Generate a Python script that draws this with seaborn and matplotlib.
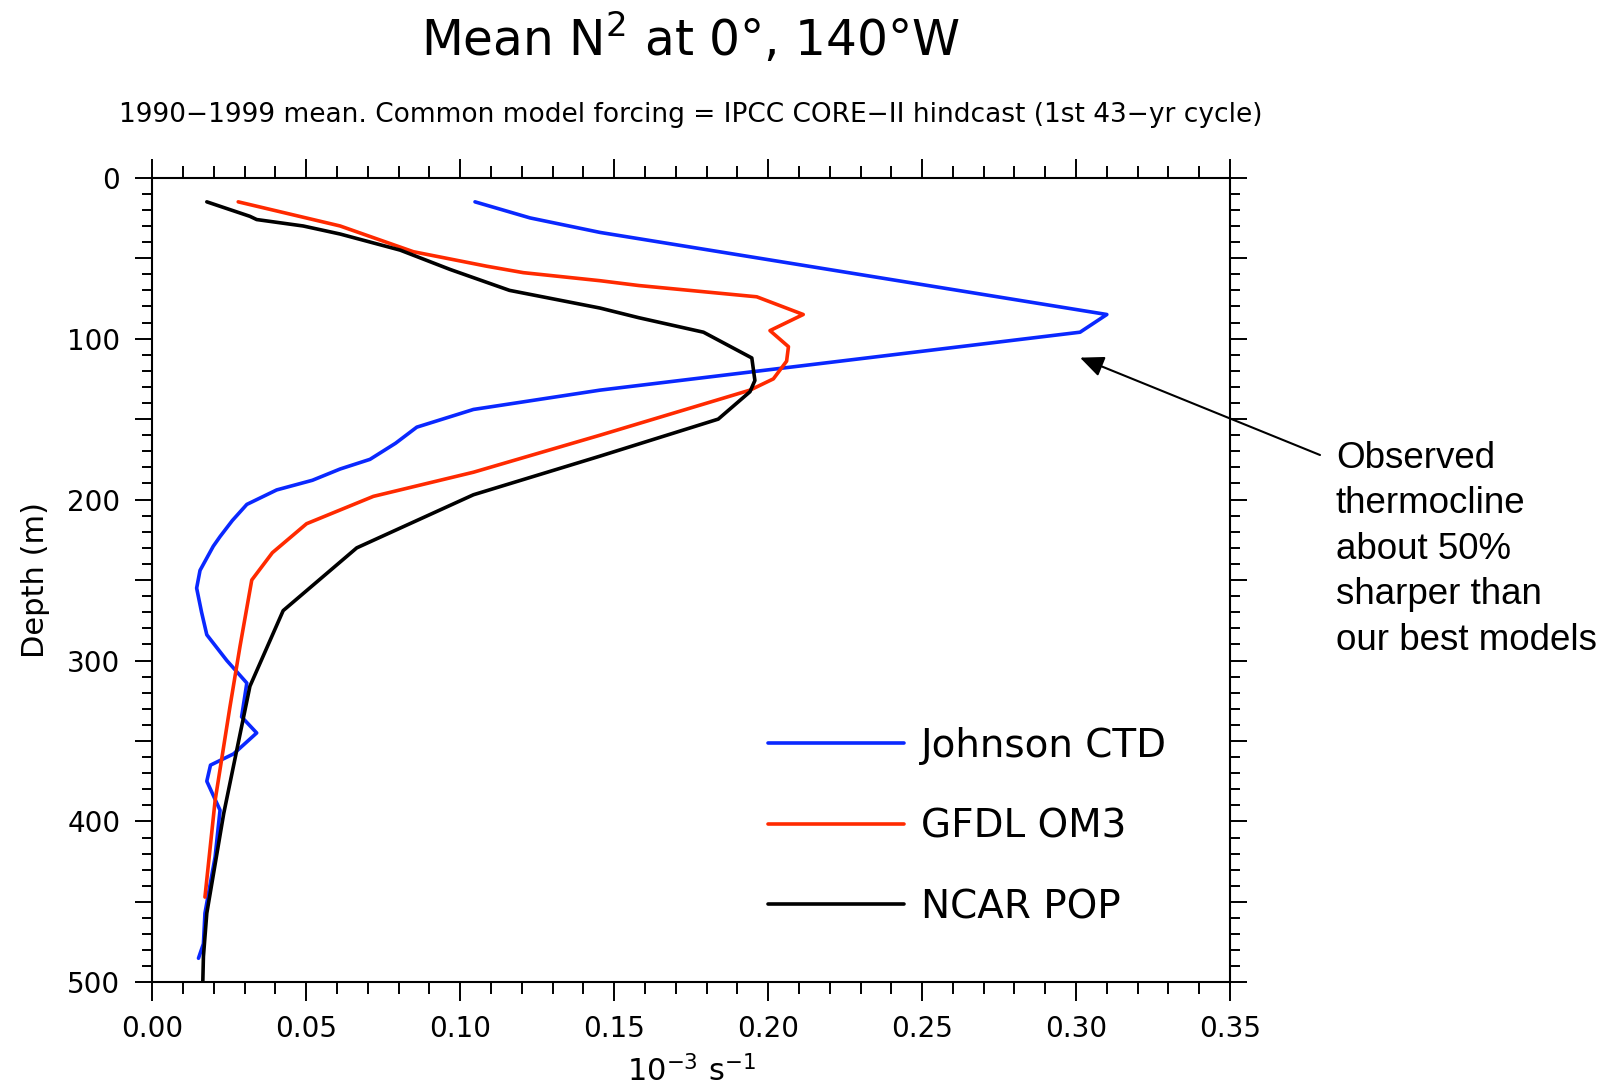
import numpy as np
import pandas as pd
import matplotlib
matplotlib.use("Agg")
import matplotlib.pyplot as plt
import seaborn as sns
from matplotlib.ticker import MultipleLocator, FuncFormatter

# ---------------- data ----------------
series_names = ["Johnson CTD", "GFDL OM3", "NCAR POP"]
series_colors = ["#0a28ff", "#ff2a00", "#000000"]

johnson_depth = [15, 25, 34, 85, 96, 132, 144, 155, 165, 175, 181, 188, 194, 203,
                 213, 223, 229, 244, 255, 270, 284, 300, 314, 335, 345, 358, 365,
                 375, 393, 422, 457, 476, 485]
johnson_n2 = [0.1048, 0.1227, 0.1454, 0.3100, 0.3013, 0.1454, 0.1043, 0.0859, 0.0790,
              0.0707, 0.0610, 0.0520, 0.0404, 0.0307, 0.0260, 0.0220, 0.0198, 0.0155,
              0.0144, 0.0160, 0.0177, 0.0242, 0.0307, 0.0290, 0.0339, 0.0264, 0.0189,
              0.0177, 0.0220, 0.0204, 0.0171, 0.0166, 0.0150]

gfdl_depth = [15, 30, 46, 55, 59, 64, 67, 74, 85, 95, 105, 114, 125, 132, 160, 183,
              198, 215, 233, 250, 291, 329, 387, 447]
gfdl_n2 = [0.0279, 0.0610, 0.0848, 0.1086, 0.1205, 0.1454, 0.1580, 0.1963, 0.2114,
           0.2006, 0.2066, 0.2060, 0.2017, 0.1941, 0.1454, 0.1043, 0.0718, 0.0501,
           0.0390, 0.0323, 0.0285, 0.0252, 0.0204, 0.0171]

ncar_depth = [15, 24, 26, 30, 35, 45, 57, 70, 81, 87, 96, 112, 126, 133, 150, 173,
              197, 230, 269, 316, 395, 457, 484, 500]
ncar_n2 = [0.0177, 0.0317, 0.0339, 0.0490, 0.0610, 0.0805, 0.0967, 0.1160, 0.1454,
           0.1580, 0.1790, 0.1947, 0.1957, 0.1941, 0.1838, 0.1454, 0.1043, 0.0664,
           0.0425, 0.0317, 0.0232, 0.0177, 0.0166, 0.0164]

x_ticks = [0.00, 0.05, 0.10, 0.15, 0.20, 0.25, 0.30, 0.35]
y_tick_labels = [0, 100, 200, 300, 400, 500]

title_text = "Mean N$^2$ at 0°, 140°W"
subtitle_text = "1990\u22121999 mean. Common model forcing = IPCC CORE\u2212II hindcast (1st 43\u2212yr cycle)"
note_text = "Observed\nthermocline\nabout 50%\nsharper than\nour best models"

frames = []
for name, d, v in [(series_names[0], johnson_depth, johnson_n2),
                   (series_names[1], gfdl_depth, gfdl_n2),
                   (series_names[2], ncar_depth, ncar_n2)]:
    frames.append(pd.DataFrame({"depth": d, "n2": v, "series": name}))
df = pd.concat(frames, ignore_index=True)

# ---------------- style ----------------
sns.set_style("ticks")
plt.rcParams["font.family"] = ["DejaVu Sans"]
plt.rcParams["mathtext.fontset"] = "dejavusans"
plt.rcParams["mathtext.default"] = "regular"
plt.rcParams["text.color"] = "black"
plt.rcParams["axes.labelcolor"] = "black"
plt.rcParams["xtick.color"] = "black"
plt.rcParams["ytick.color"] = "black"

W, H = 1618, 1088
fig = plt.figure(figsize=(W / 100, H / 100), dpi=100)
ax = fig.add_axes([152.3 / W, 1 - 982.4 / H, (1230 - 152.3) / W, (982.4 - 177.7) / H])

palette = dict(zip(series_names, series_colors))
sns.lineplot(data=df, x="n2", y="depth", hue="series", hue_order=series_names,
             palette=palette, sort=False, estimator=None, orient="y",
             linewidth=2.6, ax=ax)

ax.set_xlim(0, 0.35)
ax.set_ylim(500, 0)
ax.set_xticks(x_ticks)
ax.xaxis.set_minor_locator(MultipleLocator(0.01))
ax.yaxis.set_major_locator(MultipleLocator(50))
ax.yaxis.set_minor_locator(MultipleLocator(10))
ax.xaxis.set_major_formatter(FuncFormatter(lambda v, p: f"{v:.2f}"))
ax.yaxis.set_major_formatter(
    FuncFormatter(lambda v, p: f"{int(round(v))}" if int(round(v)) in y_tick_labels else ""))

for s in ax.spines.values():
    s.set_visible(True)
    s.set_linewidth(1.5)
    s.set_color("black")

ax.tick_params(which="both", direction="out", top=True, right=True, width=1.4,
               color="black", labelsize=20, labelcolor="black")
ax.tick_params(axis="x", which="major", length=13.7, pad=10)
ax.tick_params(axis="x", which="minor", length=8.3)
ax.tick_params(axis="y", which="major", length=12, pad=11)
ax.tick_params(axis="y", which="minor", length=7)

ax.set_xlabel("10$^{-3}$ s$^{-1}$", fontsize=22)
ax.set_ylabel("Depth (m)", fontsize=22)
ax.xaxis.set_label_coords(0.5, -0.09)
ax.yaxis.set_label_coords(-0.095, 0.5)

# legend (drawn in the plot area like the original)
handles, labels = ax.get_legend_handles_labels()
ax.legend(handles, labels, loc="center left", bbox_to_anchor=(0.5716, 0.194),
          frameon=False, fontsize=28, handlelength=3.5, handletextpad=0.42,
          labelspacing=1.1, borderpad=0, borderaxespad=0)

# titles
cx = 691 / W
fig.text(cx, 1 - 56 / H, title_text, ha="center", va="baseline", fontsize=35)
fig.text(cx, 1 - 121.7 / H, subtitle_text, ha="center", va="baseline", fontsize=19)

# annotation
ax.annotate("", xy=(0.3013, 111.8), xycoords="data",
            xytext=(1320, H - 455), textcoords="figure pixels",
            arrowprops=dict(arrowstyle="-|>,head_length=0.8,head_width=0.35",
                            mutation_scale=18, lw=1.5, color="black",
                            shrinkA=0, shrinkB=0),
            annotation_clip=False)
fig.text(1336 / W, 1 - 650 / H, note_text, ha="left", va="baseline",
         fontsize=26.5, family=["Liberation Sans", "DejaVu Sans"], linespacing=1.39)

fig.savefig("out.png", dpi=100)
